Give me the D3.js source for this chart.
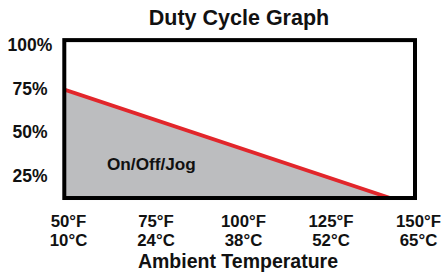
<!DOCTYPE html>
<html>
<head>
<meta charset="utf-8">
<script src="https://cdn.jsdelivr.net/npm/d3@7"></script>
<style>
  html, body { margin: 0; padding: 0; background: #fff; }
  svg { display: block; }
  text { font-family: "Liberation Sans", Arial, Helvetica, sans-serif; font-weight: bold; fill: #111; }
</style>
</head>
<body>
<script>
// ---- data ----
const title = "Duty Cycle Graph";
const xAxisTitle = "Ambient Temperature";
const tempF = [50, 75, 100, 125, 150];
const tempFLabels = ["50°F", "75°F", "100°F", "125°F", "150°F"];
const tempCLabels = ["10°C", "24°C", "38°C", "52°C", "65°C"];
const dutyTicks = [25, 50, 75, 100];
const dutyTickLabels = ["25%", "50%", "75%", "100%"];
const lineTemps = [48.8, 141.9];
const lineDuty = [74.5, 12.4];
const regionLabel = "On/Off/Jog";
const frameTemps = [48.8, 149];
const frameDuty = [12.4, 102.8];

// ---- layout ----
const W = 442, H = 276;
const svg = d3.select("body").append("svg").attr("width", W).attr("height", H);

const x = d3.scaleLinear().domain([50, 150]).range([68.5, 418.5]);
const y = d3.scaleLinear().domain([0, 100]).range([219.67, 45]);

const fx0 = x(frameTemps[0]), fx1 = x(frameTemps[1]);
const fy0 = y(frameDuty[1]), fy1 = y(frameDuty[0]);

svg.append("defs").append("clipPath").attr("id", "plotclip")
  .append("rect").attr("x", fx0).attr("y", fy0).attr("width", fx1 - fx0).attr("height", fy1 - fy0);

const lineData = lineTemps.map((t, i) => ({ t, d: lineDuty[i] }));
const g = svg.append("g").attr("clip-path", "url(#plotclip)");

const area = d3.area()
  .x(p => x(p.t))
  .y0(() => fy1 + 5)
  .y1(p => y(p.d));
g.append("path").datum(lineData).attr("d", area).attr("fill", "#bcbdbf");

const line = d3.line().x(p => x(p.t)).y(p => y(p.d));
g.append("path").datum(lineData).attr("d", line)
  .attr("fill", "none").attr("stroke", "#e2262b").attr("stroke-width", 3.8);

svg.append("text").attr("x", x(61)).attr("y", y(28.2))
  .attr("font-size", 17.2).text(regionLabel);

svg.append("rect").attr("x", fx0).attr("y", fy0)
  .attr("width", fx1 - fx0).attr("height", fy1 - fy0)
  .attr("fill", "none").attr("stroke", "#000").attr("stroke-width", 4);

svg.append("text").attr("x", 239).attr("y", 24.5).attr("text-anchor", "middle")
  .attr("font-size", 21.5).text(title);

svg.append("g").selectAll("text").data(dutyTicks).join("text")
  .attr("x", 30).attr("y", d => y(d) + 6)
  .attr("text-anchor", "middle").attr("font-size", 17.5)
  .text((d, i) => dutyTickLabels[i]);

// x tick labels: two rows
const xl = svg.append("g").attr("text-anchor", "middle").attr("font-size", 16.8);
xl.selectAll("text.f").data(tempF).join("text").attr("class", "f")
  .attr("x", d => x(d)).attr("y", 226.5).text((d, i) => tempFLabels[i]);
xl.selectAll("text.c").data(tempF).join("text").attr("class", "c")
  .attr("x", d => x(d)).attr("y", 245.5).text((d, i) => tempCLabels[i]);

svg.append("text").attr("x", 238).attr("y", 268).attr("text-anchor", "middle")
  .attr("font-size", 19.5).text(xAxisTitle);
</script>
</body>
</html>
